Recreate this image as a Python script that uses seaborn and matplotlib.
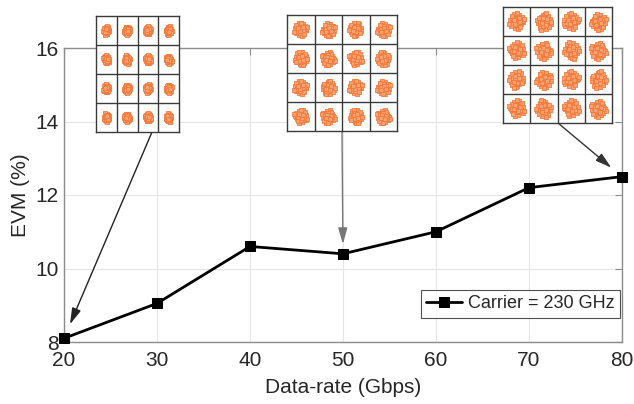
import numpy as np
import pandas as pd
import matplotlib
matplotlib.use("Agg")
import matplotlib.pyplot as plt
import seaborn as sns

# ---- data ----
data_rate = [20, 30, 40, 50, 60, 70, 80]
evm = [8.1, 9.05, 10.6, 10.4, 11.0, 12.2, 12.5]
series_label = "Carrier = 230 GHz"
x_ticks = [20, 30, 40, 50, 60, 70, 80]
y_ticks = [8, 10, 12, 14, 16]

# constellation insets: which data point each belongs to and cluster spread (cell units)
inset_points = [20, 50, 80]
inset_spread = [0.16, 0.26, 0.31]
# normalized sample offsets of one constellation cluster (read as typical shape)
cluster_dx = [0.0, 0.3, -0.4, 0.6, -0.2, 0.1, -0.7, 0.5, -0.5, 0.2, 0.8, -0.1, 0.4, -0.3, 0.0,
              -0.6, 0.7, 0.1, -0.8, 0.3, -0.2, 0.5, -0.4, 0.2, 0.9, -0.9, 0.0, 0.6, -0.5, 0.1,
              0.25, -0.15, 0.45, -0.35, 0.05, 0.15, -0.25, 0.35]
cluster_dy = [0.1, -0.2, 0.3, 0.0, -0.5, 0.6, -0.1, 0.4, -0.3, -0.7, 0.2, 0.3, -0.4, 0.7, -0.2,
              0.5, -0.5, 0.0, 0.1, 0.8, -0.8, -0.1, -0.6, 0.4, -0.3, 0.3, 0.9, 0.6, 0.0, -0.4,
              0.15, 0.05, -0.15, -0.05, 0.25, -0.25, 0.35, 0.2]

sns.set_style("white")
plt.rcParams['font.family'] = ['Liberation Sans', 'DejaVu Sans']

fig = plt.figure(figsize=(6.34, 4.04), dpi=100)
ax = fig.add_axes([64/634, 62/404, 558/634, 294/404])

df = pd.DataFrame({"Data-rate": data_rate, "EVM": evm})
sns.lineplot(data=df, x="Data-rate", y="EVM", ax=ax, color="black", linewidth=2,
             marker="s", markersize=7.5, markeredgecolor="black", label=series_label,
             clip_on=False, zorder=5)

ax.set_xlim(20, 80)
ax.set_ylim(8, 16)
ax.set_xticks(x_ticks)
ax.set_yticks(y_ticks)
ax.grid(True, color="#e6e6e6", linewidth=0.8)
ax.set_axisbelow(True)
for sp in ax.spines.values():
    sp.set_visible(True)
    sp.set_color("#8c8c8c")
    sp.set_linewidth(1.0)
ax.tick_params(direction="in", top=True, right=True, length=5, width=0.8,
               color="#8c8c8c", labelsize=15, labelcolor="#262626")
ax.tick_params(axis="x", pad=6.5)
ax.tick_params(axis="y", pad=4)
ax.set_xlabel("Data-rate (Gbps)", fontsize=15, color="#262626", labelpad=6)
ax.set_ylabel("EVM (%)", fontsize=15, color="#262626", labelpad=4)

leg = ax.legend(loc="lower right", bbox_to_anchor=(0.996, 0.082), borderaxespad=0,
                fontsize=13, frameon=True, fancybox=False, handlelength=2.0,
                borderpad=0.3, handletextpad=0.3)
leg.get_frame().set_edgecolor("#262626")
leg.get_frame().set_linewidth(0.8)

# ---- constellation insets ----
inset_rects = [
    [96/634, (404-132)/404, 83/634, 116/404],
    [287/634, (404-131)/404, 110/634, 116/404],
    [503/634, (404-123)/404, 109/634, 116/404],
]
orange = "#f37a3c"
for k, rect in enumerate(inset_rects):
    iax = fig.add_axes(rect)
    iax.set_facecolor("white")
    xs, ys = [], []
    s = inset_spread[k]
    for i in range(4):
        for j in range(4):
            fx = -1 if (i + j) % 2 else 1
            fy = -1 if i % 2 else 1
            swap = (i * 4 + j + k) % 3 == 0
            for dx, dy in zip(cluster_dx, cluster_dy):
                if swap:
                    dx, dy = dy, dx
                xs.append(i + 0.5 + fx * dx * s)
                ys.append(j + 0.5 + fy * dy * s)
    sns.scatterplot(x=xs, y=ys, ax=iax, marker="s", s=5,
                    facecolor="#f7a270", edgecolor=orange, linewidth=0.6)
    iax.set_xlim(0, 4)
    iax.set_ylim(0, 4)
    iax.set_xticks([1, 2, 3])
    iax.set_yticks([1, 2, 3])
    iax.tick_params(length=0, labelbottom=False, labelleft=False)
    iax.grid(True, color="#3a3a3a", linewidth=1.0)
    iax.set_axisbelow(True)
    iax.set_xlabel("")
    iax.set_ylabel("")
    for sp in iax.spines.values():
        sp.set_visible(True)
        sp.set_color("#3a3a3a")
        sp.set_linewidth(1.0)

# ---- arrows from insets to points ----
arrow_starts = [(152, 404-132), (342, 404-131), (558, 404-123)]
arrow_colors = ["#222222", "#777777", "#333333"]
arrow_shrink = [11, 7, 10]
for k, xv in enumerate(inset_points):
    idx = data_rate.index(xv)
    ax.annotate("", xy=(data_rate[idx], evm[idx]), xycoords="data",
                xytext=arrow_starts[k], textcoords="figure pixels",
                arrowprops=dict(arrowstyle="-|>,head_length=0.7,head_width=0.2",
                                color=arrow_colors[k], lw=1.0, shrinkA=0,
                                shrinkB=arrow_shrink[k], mutation_scale=14),
                annotation_clip=False, zorder=6)

fig.savefig("out.png", dpi=100)
